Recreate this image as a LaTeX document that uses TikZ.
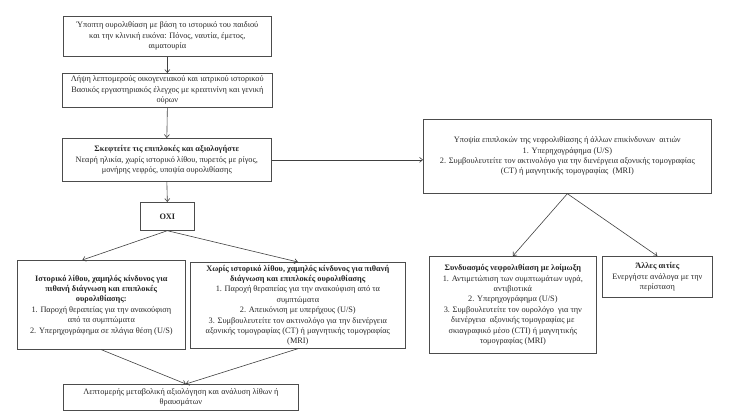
\documentclass[tikz,border=0pt]{standalone}
\usepackage{fontspec}
\setmainfont{Liberation Serif}
\usetikzlibrary{arrows.meta}
\tikzset{
  box/.style={draw=black!70, line width=0.7pt, rectangle, align=center, inner sep=2pt,
    anchor=north west, font=\fontsize{8.3}{10.4}\selectfont, text=black!85},
  conn/.style={draw=black!75, line width=0.6pt, -{Straight Barb[length=3pt,width=5pt]}}
}
\begin{document}
\begin{tikzpicture}[x=1pt,y=-1pt]
\useasboundingbox (0,0) rectangle (737,414);
\node[box, minimum width=208pt, minimum height=40pt] (b1) at (63,16)
  {Ύποπτη ουρολιθίαση με βάση το ιστορικό του παιδιού\\και την κλινική εικόνα: Πόνος, ναυτία, έμετος,\\αιματουρία};
\node[box, minimum width=210pt, minimum height=34pt] (b2) at (62,73)
  {Λήψη λεπτομερούς οικογενειακού και ιατρικού ιστορικού\\Βασικός εργαστηριακός έλεγχος με κρεατινίνη και γενική\\ούρων};
\node[box, minimum width=209pt, minimum height=43pt] (b3) at (62,138)
  {\textbf{Σκεφτείτε τις επιπλοκές και αξιολογήστε}\\Νεαρή ηλικία, χωρίς ιστορικό λίθου, πυρετός με ρίγος,\\μονήρης νεφρός, υποψία ουρολιθίασης};
\node[box, minimum width=54pt, minimum height=28pt] (oxi) at (140,202)
  {\textbf{ΟΧΙ}};
\node[box, minimum width=168pt, minimum height=89pt] (L) at (17,260)
  {\textbf{Ιστορικό λίθου, χαμηλός κίνδυνος για}\\\textbf{πιθανή διάγνωση και επιπλοκές}\\\textbf{ουρολιθίασης:}\\1. Παροχή θεραπείας για την ανακούφιση\\από τα συμπτώματα\\2. Υπερηχογράφημα σε πλάγια θέση (U/S)};
\node[box, minimum width=215pt, minimum height=86pt] (M) at (190,262)
  {\textbf{Χωρίς ιστορικό λίθου, χαμηλός κίνδυνος για πιθανή}\\\textbf{διάγνωση και επιπλοκές ουρολιθίασης}\\1. Παροχή θεραπείας για την ανακούφιση από τα\\συμπτώματα\\2. Απεικόνιση με υπερήχους (U/S)\\3. Συμβουλευτείτε τον ακτινολόγο για την διενέργεια\\αξονικής τομογραφίας (CT) ή μαγνητικής τομογραφίας\\(MRI)};
\node[box, minimum width=235pt, minimum height=26pt] (B) at (63,384)
  {Λεπτομερής μεταβολική αξιολόγηση και ανάλυση λίθων ή\\θραυσμάτων};
\node[box, minimum width=288pt, minimum height=74pt] (R1) at (423,119)
  {Υποψία επιπλοκών της νεφρολιθίασης ή άλλων επικίνδυνων \ αιτιών\\1. Υπερηχογράφημα (U/S)\\2. Συμβουλευτείτε τον ακτινολόγο για την διενέργεια αξονικής τομογραφίας\\(CT) ή μαγνητικής τομογραφίας \ (MRI)};
\node[box, minimum width=167pt, minimum height=97pt] (R2) at (429,256)
  {\textbf{Συνδυασμός νεφρολιθίαση με λοίμωξη}\\1. Αντιμετώπιση των συμπτωμάτων υγρά,\\αντιβιοτικά\\2. Υπερηχογράφημα (U/S)\\3. Συμβουλευτείτε τον ουρολόγο \ για την\\διενέργεια \ αξονικής τομογραφίας με\\σκιαγραφικό μέσο (CTI) ή μαγνητικής\\τομογραφίας (MRI)};
\node[box, minimum width=110pt, minimum height=41pt] (R3) at (602,256)
  {\textbf{Άλλες αιτίες}\\Ενεργήστε ανάλογα με την\\περίσταση};
\draw[conn] (b1.south) -- (b2.north);
\draw[conn] (b2.south) -- (b3.north);
\draw[conn] (b3.south) -- (oxi.north);
\draw[conn] (b3.east) -- (b3.east -| R1.west);
\draw[conn] (oxi.south) -- ([xshift=-19pt]L.north);
\draw[conn] (oxi.south) -- (M.north);
\draw[conn] (L.south) -- ([xshift=5pt]B.north);
\draw[conn] (M.south) -- ([xshift=5pt]B.north);
\draw[conn] (R1.south) -- (R2.north);
\draw[conn] (R1.south) -- (R3.north);
\end{tikzpicture}
\end{document}
